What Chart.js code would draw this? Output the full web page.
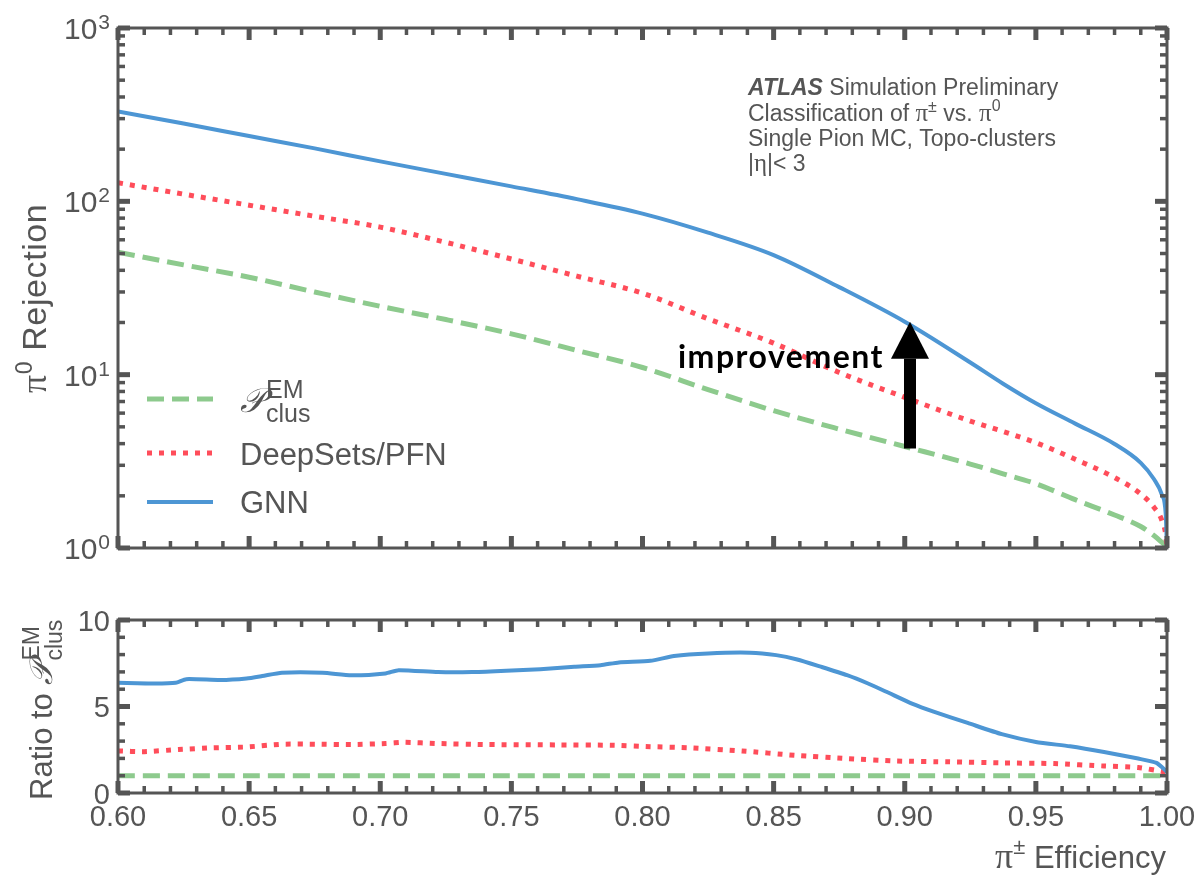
<!DOCTYPE html>
<html>
<head>
<meta charset="utf-8">
<script src="https://cdn.jsdelivr.net/npm/chart.js@4.4.1/dist/chart.umd.min.js"></script>
<style>
  html, body { margin: 0; padding: 0; background: #fff; }
  #wrap { position: relative; width: 1202px; height: 876px; }
  canvas { position: absolute; left: 0; top: 0; }
</style>
</head>
<body>
<div id="wrap">
  <canvas id="rejection" width="1202" height="876"></canvas>
  <canvas id="ratio" width="1202" height="876"></canvas>
</div>
<script>
// === Datos ===
const effTop = [0.600, 0.625, 0.650, 0.675, 0.700, 0.725, 0.750, 0.775, 0.800, 0.825, 0.850,
                0.875, 0.900, 0.925, 0.9375, 0.950, 0.965, 0.980, 0.990, 0.995, 0.998, 0.9995, 1.000];
const gnnRej  = [330, 281, 238, 202, 170, 144, 122, 103, 85, 66, 49,
                 32, 20.2, 11.75, 8.87, 6.84, 5.22, 3.98, 3.1, 2.5, 2.04, 1.58, 1.0];
const dsRej   = [128, 110, 95, 82, 71, 58, 46.5, 37, 29.5, 21, 15.2,
                 10.3, 7.4, 5.4, 4.7, 4.05, 3.25, 2.55, 2.05, 1.72, 1.45, 1.2, 1.0];
const pemRej  = [50.8, 43, 36.5, 30, 24.8, 20.8, 17.2, 13.8, 11.0, 8.2, 6.2,
                 4.85, 3.85, 3.05, 2.68, 2.35, 1.9, 1.55, 1.33, 1.18, 1.08, 1.03, 1.0];

const effRatioGnn = [0.600, 0.614, 0.622, 0.626, 0.639, 0.649, 0.655, 0.6625, 0.678, 0.689, 0.702,
                     0.707, 0.722, 0.735, 0.748, 0.761, 0.774, 0.784, 0.791, 0.803, 0.812, 0.825,
                     0.841, 0.851, 0.859, 0.868, 0.878, 0.886, 0.893, 0.903, 0.911, 0.924, 0.937,
                     0.950, 0.963, 0.976, 0.989, 0.996, 1.000];
const ratioGnn    = [6.37, 6.33, 6.37, 6.58, 6.53, 6.62, 6.76, 6.95, 6.95, 6.80, 6.91,
                     7.10, 6.99, 6.99, 7.07, 7.16, 7.30, 7.39, 7.55, 7.64, 7.92, 8.07,
                     8.11, 7.97, 7.72, 7.30, 6.81, 6.33, 5.85, 5.15, 4.70, 4.05, 3.40,
                     2.95, 2.70, 2.37, 1.99, 1.74, 1.22];
const effRatioDs  = [0.600, 0.610, 0.623, 0.636, 0.649, 0.6625, 0.676, 0.689, 0.702, 0.709, 0.722,
                     0.741, 0.768, 0.788, 0.803, 0.818, 0.838, 0.858, 0.878, 0.897, 0.917, 0.937,
                     0.957, 0.976, 0.989, 0.999, 1.000];
const ratioDs     = [2.43, 2.39, 2.51, 2.61, 2.66, 2.82, 2.82, 2.80, 2.86, 2.93, 2.86,
                     2.80, 2.78, 2.76, 2.68, 2.61, 2.43, 2.18, 1.99, 1.85, 1.80, 1.74,
                     1.70, 1.56, 1.47, 1.22, 1.15];
const effRatioPem = [0.600, 1.000];
const ratioPem    = [1, 1];

// ejes
const xMajor = [0.60, 0.65, 0.70, 0.75, 0.80, 0.85, 0.90, 0.95, 1.00];
const rejMajor = [1, 10, 100, 1000];
const ratioMajor = [0, 5, 10];

// flecha "improvement"
const arrowEff = 0.902;
const arrowFrom = 3.75;
const arrowTo = 20.2;
const arrowLabelAt = 10.9;

// === Estilos ===
const AXIS = '#555555';
const SANS = '"Liberation Sans", Arial, sans-serif';
const SERIF = '"Liberation Serif", "DejaVu Serif", serif';
const GNN_COLOR = '#4d96d4';
const DS_COLOR = '#ff4d5a';
const PEM_COLOR = '#8dca8d';

const styles = {
    gnn: { borderColor: GNN_COLOR, borderWidth: 4, borderDash: [] },
    ds:  { borderColor: DS_COLOR, borderWidth: 5, borderDash: [5, 7] },
    pem: { borderColor: PEM_COLOR, borderWidth: 5, borderDash: [17, 8] }
};

const toPoints = (xs, ys) => xs.map((x, i) => ({ x: x, y: ys[i] }));

// texto con partes (fuente distinta, desplazamiento vertical)
function drawRuns(ctx, parts, x, y, align) {
    let w = 0;
    parts.forEach(p => { ctx.font = p[1]; w += ctx.measureText(p[0]).width; });
    let cx = align === 'right' ? x - w : (align === 'center' ? x - w / 2 : x);
    parts.forEach(p => {
        ctx.font = p[1];
        ctx.fillText(p[0], cx, y + (p[2] || 0));
        cx += ctx.measureText(p[0]).width;
    });
    return cx;
}

function line(ctx, x1, y1, x2, y2) {
    ctx.beginPath(); ctx.moveTo(x1, y1); ctx.lineTo(x2, y2); ctx.stroke();
}

// marco con marcas hacia dentro en los cuatro lados
function drawFrame(chart, yMajor, yMinor) {
    const ctx = chart.ctx, a = chart.chartArea;
    const xs = chart.scales.x, ys = chart.scales.y;
    ctx.save();
    ctx.strokeStyle = AXIS;
    ctx.lineCap = 'butt';
    const xTicks = [];
    for (let i = 0; i <= 40; i++) {
        const v = 0.6 + i * 0.01;
        xTicks.push({ v: v, major: i % 5 === 0 });
    }
    xTicks.forEach(t => {
        const px = xs.getPixelForValue(t.v);
        const len = t.major ? 12 : 7;
        ctx.lineWidth = t.major ? 5 : 3.5;
        line(ctx, px, a.bottom, px, a.bottom - len);
        line(ctx, px, a.top, px, a.top + len);
    });
    const yTicks = yMajor.map(v => ({ v: v, major: true })).concat(yMinor.map(v => ({ v: v, major: false })));
    yTicks.forEach(t => {
        const py = ys.getPixelForValue(t.v);
        const len = t.major ? 12 : 7;
        ctx.lineWidth = t.major ? 5 : 3.5;
        line(ctx, a.left, py, a.left + len, py);
        line(ctx, a.right, py, a.right - len, py);
    });
    ctx.lineWidth = 3;
    ctx.strokeRect(a.left, a.top, a.right - a.left, a.bottom - a.top);
    ctx.restore();
}

function legendSample(ctx, st, x1, x2, y) {
    ctx.save();
    ctx.strokeStyle = st.borderColor;
    ctx.lineWidth = st.borderWidth;
    ctx.setLineDash(st.borderDash);
    line(ctx, x1, y, x2, y);
    ctx.restore();
}

function drawScriptP(ctx, x, y, size, supSize) {
    ctx.font = 'italic ' + size + 'px ' + SERIF;
    ctx.fillText('\u{1D4AB}', x, y);
    const w = ctx.measureText('\u{1D4AB}').width;
    ctx.font = supSize + 'px ' + SANS;
    ctx.fillText('EM', x + w + 1, y - size * 0.42);
    ctx.fillText('clus', x + w + 1, y + size * 0.3);
}

const topDecor = {
    id: 'topDecor',
    afterDatasetsDraw(chart) {
        const ctx = chart.ctx;
        const xs = chart.scales.x, ys = chart.scales.y;
        // flecha
        const xp = xs.getPixelForValue(arrowEff);
        const yTail = ys.getPixelForValue(arrowFrom);
        const yTip = ys.getPixelForValue(arrowTo);
        const head = 37;
        ctx.save();
        ctx.fillStyle = '#000';
        ctx.fillRect(xp - 6, yTip + head, 12, yTail - yTip - head);
        ctx.beginPath();
        ctx.moveTo(xp, yTip);
        ctx.lineTo(xp + 19, yTip + head);
        ctx.lineTo(xp - 19, yTip + head);
        ctx.closePath();
        ctx.fill();
        ctx.font = 'bold 32px Lato, "Open Sans", sans-serif';
        ctx.letterSpacing = '1.5px';
        ctx.textAlign = 'right';
        ctx.fillText('improvement', xp - 26, ys.getPixelForValue(arrowLabelAt));
        ctx.restore();
    },
    afterDraw(chart) {
        const ctx = chart.ctx;
        const ys = chart.scales.y;
        const minor = [];
        [1, 10, 100].forEach(d => { for (let m = 2; m <= 9; m++) minor.push(d * m); });
        drawFrame(chart, rejMajor, minor);

        ctx.save();
        ctx.fillStyle = AXIS;
        ctx.textBaseline = 'alphabetic';
        ctx.textAlign = 'left';
        // etiquetas 10^n
        rejMajor.forEach(v => {
            const py = ys.getPixelForValue(v);
            const exp = String(Math.round(Math.log10(v)));
            ctx.font = '21px ' + SANS;
            const we = ctx.measureText(exp).width;
            ctx.fillText(exp, 110 - we, py + 1);
            ctx.font = '30px ' + SANS;
            const wm = ctx.measureText('10').width;
            ctx.fillText('10', 110 - we - wm - 1, py + 11);
        });
        // título eje y
        ctx.save();
        ctx.translate(46, 393);
        ctx.rotate(-Math.PI / 2);
        ctx.letterSpacing = '0.6px';
        drawRuns(ctx, [['\u03C0', '36px ' + SERIF], ['0', '23px ' + SANS, -14], [' Rejection', '34px ' + SANS]], 0, 0, 'left');
        ctx.restore();

        // texto ATLAS
        const f = '23px ' + SANS;
        const g = '25px ' + SERIF;
        const s = '16px ' + SANS;
        drawRuns(ctx, [['ATLAS', 'italic bold 23px ' + SANS], [' Simulation Preliminary', f]], 748, 95, 'left');
        drawRuns(ctx, [['Classification of ', f], ['\u03C0', g], ['\u00B1', s, -9], [' vs. ', f], ['\u03C0', g], ['0', s, -10]], 748, 121, 'left');
        drawRuns(ctx, [['Single Pion MC, Topo-clusters', f]], 748, 146, 'left');
        drawRuns(ctx, [['|', f], ['\u03B7', g], ['|< 3', f]], 748, 171, 'left');

        // leyenda
        legendSample(ctx, styles.pem, 147, 213, 399);
        legendSample(ctx, styles.ds, 147, 213, 453);
        legendSample(ctx, styles.gnn, 147, 213, 502);
        ctx.fillStyle = AXIS;
        drawScriptP(ctx, 240, 412, 34, 25);
        ctx.font = '31px ' + SANS;
        ctx.fillText('DeepSets/PFN', 240, 465);
        ctx.fillText('GNN', 240, 513);
        ctx.restore();
    }
};

const bottomDecor = {
    id: 'bottomDecor',
    afterDraw(chart) {
        const ctx = chart.ctx;
        const xs = chart.scales.x, ys = chart.scales.y;
        drawFrame(chart, ratioMajor, [1, 2, 3, 4, 6, 7, 8, 9]);
        ctx.save();
        ctx.fillStyle = AXIS;
        ctx.textBaseline = 'alphabetic';
        ctx.font = '29px ' + SANS;
        ctx.textAlign = 'right';
        ratioMajor.forEach(v => ctx.fillText(String(v), 110, ys.getPixelForValue(v) + 10.5));
        ctx.textAlign = 'center';
        xMajor.forEach(v => ctx.fillText(v.toFixed(2), xs.getPixelForValue(v), 826));
        ctx.textAlign = 'left';
        // título eje x
        drawRuns(ctx, [['\u03C0', '36px ' + SERIF], ['\u00B1', '22px ' + SANS, -14], [' Efficiency', '31px ' + SANS]], 1166, 868, 'right');
        // título eje y
        ctx.translate(52, 800);
        ctx.rotate(-Math.PI / 2);
        ctx.font = '31px ' + SANS;
        ctx.fillText('Ratio to ', 0, 0);
        const w = ctx.measureText('Ratio to ').width;
        drawScriptP(ctx, w, 0, 32, 23);
        ctx.restore();
    }
};

const baseOptions = (padding, yScale) => ({
    responsive: false,
    animation: false,
    layout: { padding: padding },
    plugins: { legend: { display: false }, tooltip: { enabled: false } },
    elements: { point: { radius: 0 } },
    scales: {
        x: { type: 'linear', min: 0.6, max: 1.0, display: false },
        y: Object.assign({ display: false }, yScale)
    }
});

const makeSet = (label, pts, st, smooth) => Object.assign({
    label: label,
    data: pts,
    fill: false,
    borderCapStyle: 'butt',
    cubicInterpolationMode: smooth ? 'monotone' : 'default',
    tension: smooth ? 0.4 : 0.2
}, st);

new Chart(document.getElementById('rejection'), {
    type: 'line',
    data: {
        datasets: [
            makeSet('GNN', toPoints(effTop, gnnRej), styles.gnn, true),
            makeSet('DeepSets/PFN', toPoints(effTop, dsRej), styles.ds, true),
            makeSet('P_clus^EM', toPoints(effTop, pemRej), styles.pem, true)
        ]
    },
    options: baseOptions({ left: 118, right: 35, top: 28, bottom: 328 },
                         { type: 'logarithmic', min: 1, max: 1000 }),
    plugins: [topDecor]
});

new Chart(document.getElementById('ratio'), {
    type: 'line',
    data: {
        datasets: [
            makeSet('GNN', toPoints(effRatioGnn, ratioGnn), styles.gnn, false),
            makeSet('DeepSets/PFN', toPoints(effRatioDs, ratioDs), styles.ds, false),
            makeSet('P_clus^EM', toPoints(effRatioPem, ratioPem), styles.pem, false)
        ]
    },
    options: baseOptions({ left: 118, right: 35, top: 620, bottom: 83 },
                         { type: 'linear', min: 0, max: 10 }),
    plugins: [bottomDecor]
});
</script>
</body>
</html>
